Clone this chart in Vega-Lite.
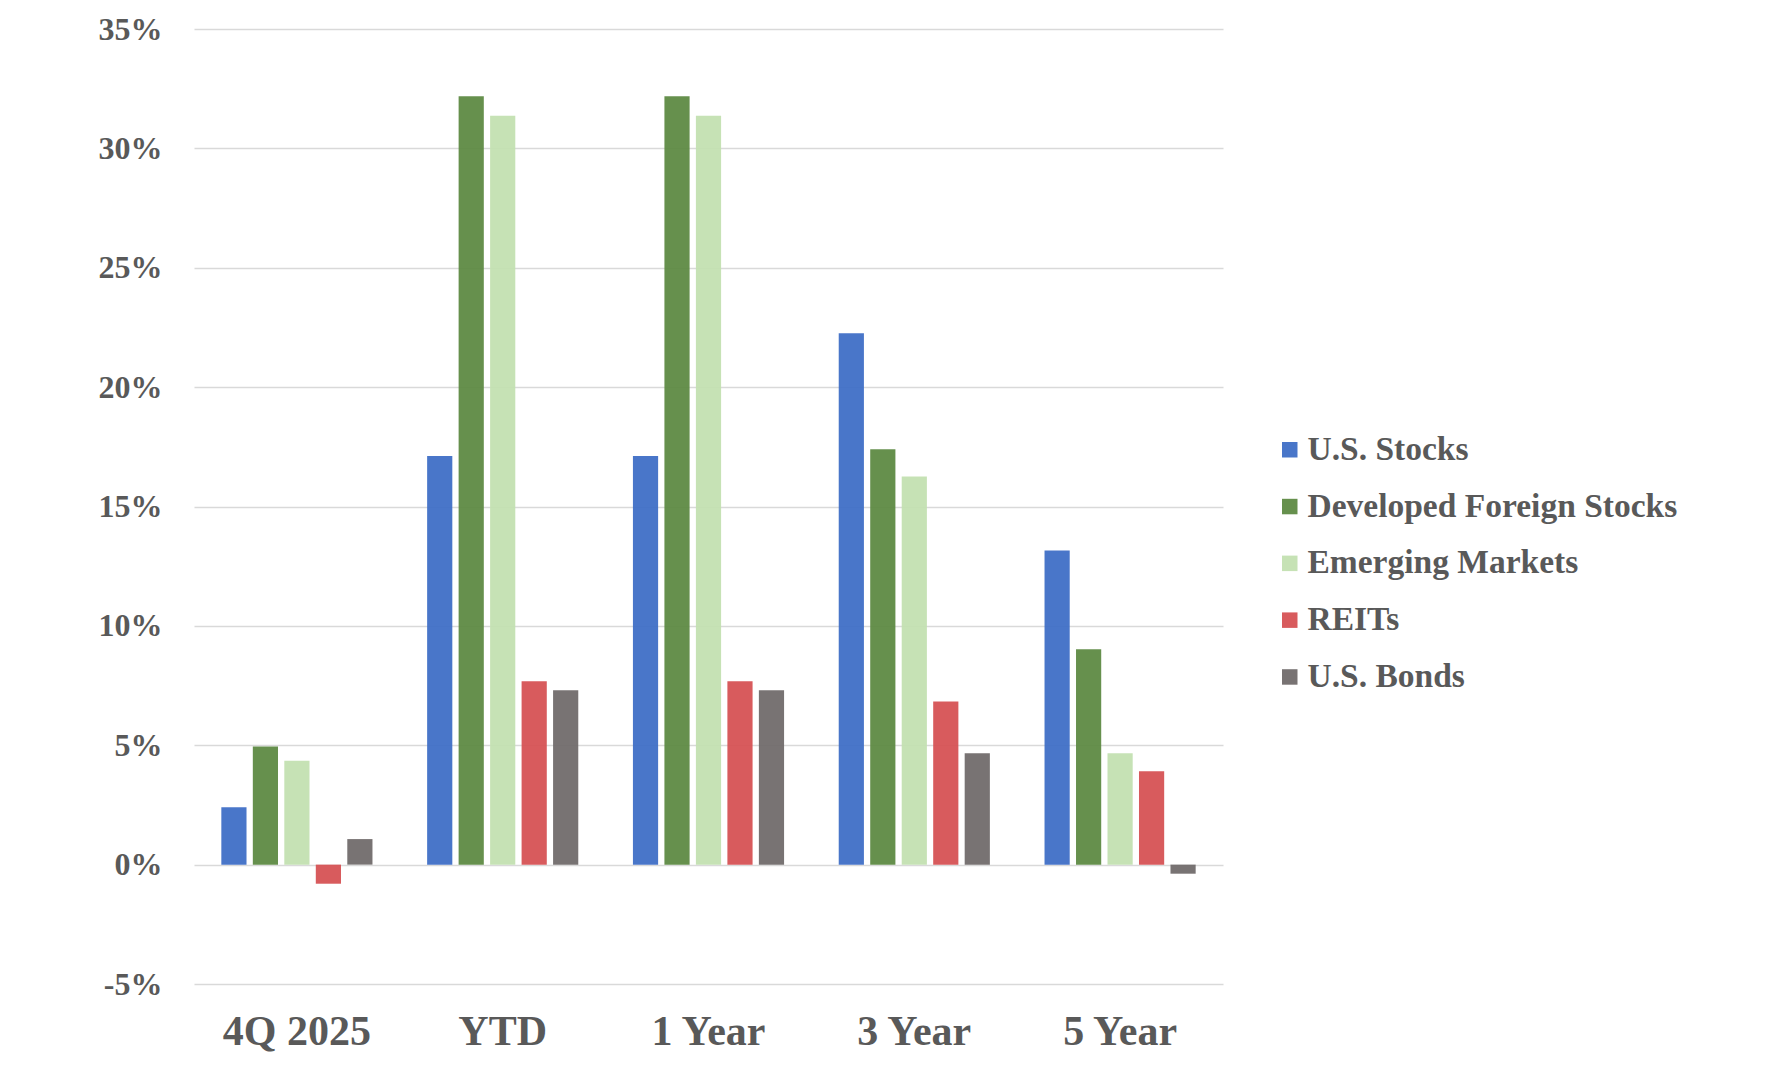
{
  "$schema": "https://vega.github.io/schema/vega-lite/v6.json",
  "autosize": {"type": "none"},
  "padding": {"left": 194, "top": 29, "right": 561, "bottom": 93},
  "width": 1029,
  "height": 955,
  "background": "white",
  "config": {
    "view": {"stroke": null},
    "font": "Times New Roman, Liberation Serif, serif"
  },
  "data": {
    "values": [
      {"period": "4Q 2025", "asset": "U.S. Stocks", "ret": 2.4},
      {"period": "4Q 2025", "asset": "Developed Foreign Stocks", "ret": 4.95},
      {"period": "4Q 2025", "asset": "Emerging Markets", "ret": 4.35},
      {"period": "4Q 2025", "asset": "REITs", "ret": -0.8},
      {"period": "4Q 2025", "asset": "U.S. Bonds", "ret": 1.07},
      {"period": "YTD", "asset": "U.S. Stocks", "ret": 17.12},
      {"period": "YTD", "asset": "Developed Foreign Stocks", "ret": 32.18},
      {"period": "YTD", "asset": "Emerging Markets", "ret": 31.37},
      {"period": "YTD", "asset": "REITs", "ret": 7.68},
      {"period": "YTD", "asset": "U.S. Bonds", "ret": 7.3},
      {"period": "1 Year", "asset": "U.S. Stocks", "ret": 17.12},
      {"period": "1 Year", "asset": "Developed Foreign Stocks", "ret": 32.18},
      {"period": "1 Year", "asset": "Emerging Markets", "ret": 31.37},
      {"period": "1 Year", "asset": "REITs", "ret": 7.68},
      {"period": "1 Year", "asset": "U.S. Bonds", "ret": 7.3},
      {"period": "3 Year", "asset": "U.S. Stocks", "ret": 22.26},
      {"period": "3 Year", "asset": "Developed Foreign Stocks", "ret": 17.4},
      {"period": "3 Year", "asset": "Emerging Markets", "ret": 16.26},
      {"period": "3 Year", "asset": "REITs", "ret": 6.83},
      {"period": "3 Year", "asset": "U.S. Bonds", "ret": 4.67},
      {"period": "5 Year", "asset": "U.S. Stocks", "ret": 13.16},
      {"period": "5 Year", "asset": "Developed Foreign Stocks", "ret": 9.02},
      {"period": "5 Year", "asset": "Emerging Markets", "ret": 4.67},
      {"period": "5 Year", "asset": "REITs", "ret": 3.91},
      {"period": "5 Year", "asset": "U.S. Bonds", "ret": -0.38}
    ]
  },
  "mark": {"type": "bar", "opacity": 0.95},
  "encoding": {
    "x": {
      "field": "period",
      "type": "nominal",
      "sort": ["4Q 2025", "YTD", "1 Year", "3 Year", "5 Year"],
      "scale": {"paddingInner": 0.235, "paddingOuter": 0.1175},
      "axis": {
        "title": null,
        "labelAngle": 0,
        "domain": false,
        "ticks": false,
        "labelFont": "Times New Roman, Liberation Serif, serif",
        "labelFontWeight": "bold",
        "labelFontSize": 42,
        "labelColor": "#595959",
        "labelPadding": 27
      }
    },
    "xOffset": {
      "field": "asset",
      "type": "nominal",
      "sort": ["U.S. Stocks", "Developed Foreign Stocks", "Emerging Markets", "REITs", "U.S. Bonds"],
      "scale": {"paddingInner": 0.2, "paddingOuter": 0.1}
    },
    "y": {
      "field": "ret",
      "type": "quantitative",
      "scale": {"domain": [-5, 35], "nice": false, "zero": false},
      "axis": {
        "title": null,
        "values": [-5, 0, 5, 10, 15, 20, 25, 30, 35],
        "labelExpr": "datum.value + '%'",
        "domain": false,
        "ticks": false,
        "grid": true,
        "gridColor": "#D9D9D9",
        "gridWidth": 1.6,
        "labelFont": "Times New Roman, Liberation Serif, serif",
        "labelFontWeight": "bold",
        "labelFontSize": 32,
        "labelColor": "#595959",
        "labelPadding": 32
      }
    },
    "color": {
      "field": "asset",
      "type": "nominal",
      "sort": ["U.S. Stocks", "Developed Foreign Stocks", "Emerging Markets", "REITs", "U.S. Bonds"],
      "scale": {
        "domain": ["U.S. Stocks", "Developed Foreign Stocks", "Emerging Markets", "REITs", "U.S. Bonds"],
        "range": ["#3F6FC6", "#5E8A43", "#C3E0B1", "#D65254", "#716C6C"]
      },
      "legend": {
        "title": null,
        "orient": "none",
        "legendX": 1079,
        "legendY": 404,
        "symbolType": "square",
        "symbolSize": 240,
        "symbolStrokeWidth": 0,
        "symbolOpacity": 0.95,
        "labelFont": "Times New Roman, Liberation Serif, serif",
        "labelFontWeight": "bold",
        "labelFontSize": 33.5,
        "labelColor": "#595959",
        "labelOffset": 1,
        "rowPadding": 21.8,
        "labelLimit": 600
      }
    }
  }
}
